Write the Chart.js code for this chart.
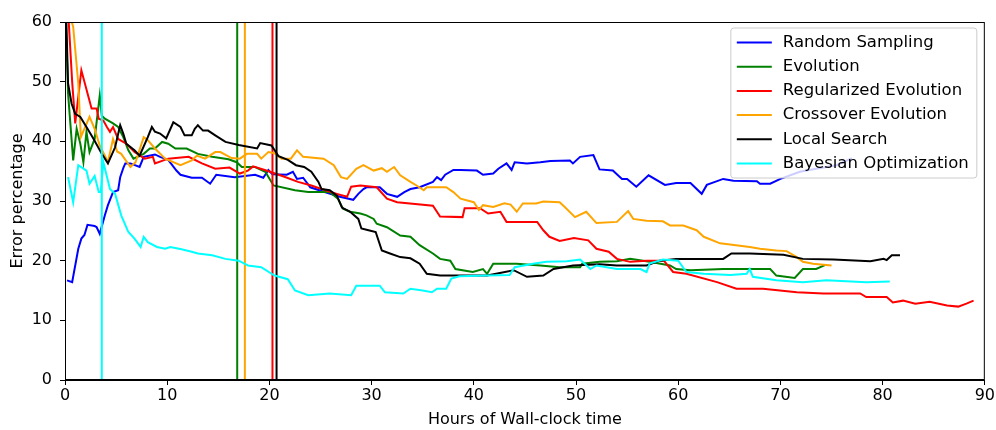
<!DOCTYPE html>
<html>
<head>
<meta charset="utf-8">
<title>Error percentage over wall-clock time</title>
<script src="https://cdn.jsdelivr.net/npm/chart.js@4.4.1/dist/chart.umd.min.js"></script>
<style>
  html, body { margin: 0; padding: 0; background: #fff; }
</style>
</head>
<body>
<canvas id="chart" width="996" height="430"></canvas>
<script>
// [hours, error %]
const randomSampling = [[0.2,16.7],[0.7,16.4],[1.3,22],[1.6,23.7],[1.9,24.3],[2.2,26],[2.9,25.8],[3.1,25.6],[3.4,24.5],[3.9,27.6],[4.2,29.3],[4.7,31.5],[5.2,31.8],[5.4,34],[5.7,35.5],[5.9,36.3],[6.4,36.3],[7.3,35.7],[7.7,37.4],[8.8,37.8],[9.3,37.4],[10.1,36.9],[10.9,35.1],[11.3,34.4],[12.4,33.9],[13.4,33.9],[14.2,32.9],[14.8,34.4],[16.6,34],[18.6,34.4],[19.4,33.9],[19.9,35.2],[20.3,34.5],[21.7,34.4],[22.3,34.9],[22.7,33.7],[23.3,33.9],[24,32.3],[25.4,31.5],[26.9,30.7],[28.2,30.2],[28.7,31.2],[29.2,32],[29.5,32.3],[30.8,32.3],[31.5,31.2],[32.5,30.7],[33.2,31.5],[33.8,32],[34.7,32.3],[36,33.2],[36.4,34],[36.8,33.5],[37.2,34.4],[38,35.2],[38.7,35.2],[40.3,35.1],[40.9,34.4],[41.9,34.6],[42.4,35.4],[43.2,36.3],[43.7,35.2],[44,36.5],[45.2,36.3],[46.5,36.5],[47.5,36.7],[49.4,36.8],[49.7,36.3],[50.4,37.4],[51.7,37.7],[52.3,35.3],[53.6,35.1],[54.5,33.7],[55,33.7],[55.9,32.4],[57.1,34.3],[58.7,32.7],[59.8,33],[61.2,33],[62.3,31.2],[62.8,32.7],[64.4,33.7],[65.4,33.4],[67.7,33.3],[68,32.9],[69,32.9],[70,33.7],[71.9,34.9],[73.5,35.4],[75.5,36],[77,37.2]];
const evolution = [[0.05,62],[0.3,48],[0.8,36.8],[1.14,42.1],[1.5,39.6],[1.8,36.5],[2.1,41.6],[2.4,38.2],[2.9,40.4],[3.4,47.7],[3.6,44.3],[3.9,43.8],[4.7,43],[5.2,42.4],[5.7,40.7],[6.2,38.5],[6.7,37.1],[7.7,37.9],[8.3,38.8],[8.8,38.8],[9.5,39.9],[10.1,39.6],[10.8,38.8],[11.9,38.8],[13,37.9],[14.4,37.4],[16,37],[16.8,36.5],[17.3,35.7],[18.6,35.7],[19.6,34.9],[20.4,32.6],[22.5,31.8],[23.8,31.5],[25.9,31.5],[26.7,30.4],[27.2,28.7],[27.9,28.2],[28.9,27.9],[29.5,27.6],[30.2,27],[30.5,26.2],[31.5,25.6],[32.8,24.2],[33.8,24],[34.7,22.6],[36,21.2],[36.7,20.3],[37.7,20],[38.2,18.6],[39.9,18.1],[40.9,18.6],[41.3,17.8],[41.9,19.5],[44.2,19.5],[46.5,19.2],[48.4,18.9],[50.4,18.9],[50.6,19.5],[52.3,19.8],[54,19.9],[55.3,20.3],[57.2,19.8],[59.2,19.2],[59.8,18.6],[61.2,18.4],[64.4,18.6],[67,18.6],[69,18.6],[69.6,17.5],[71.4,17.1],[72.2,18.6],[73.5,18.6],[74.4,19.3]];
const regularizedEvolution = [[0.3,62],[0.7,50],[1.0,43],[1.6,51.9],[2.6,45.5],[3.1,45.5],[3.3,43.8],[3.75,43.5],[4.1,42.4],[4.4,41.6],[4.7,42.4],[5.2,40.4],[6.0,39.6],[6.8,38.2],[7.8,37.1],[8.6,37.4],[8.8,36.3],[10.1,37.1],[12.1,37.4],[13.4,36.3],[14.7,35.4],[16.1,35.6],[17.1,34.6],[17.9,35.1],[18.4,35.8],[19.7,35.1],[21.4,34.1],[22.8,33.2],[24.1,32.6],[25.1,32],[26.6,31.2],[27.6,30.7],[28,32.4],[28.9,32.6],[30.5,32.3],[31.5,30.4],[32.5,29.8],[36,29.2],[36.7,27.4],[38.9,27.3],[39.1,28.8],[40.6,28.8],[41.4,27.9],[42.6,28.2],[43.2,26.5],[46.2,26.5],[46.8,25.1],[47.4,24],[48.4,23.3],[49.8,23.8],[51.2,23.4],[52,22],[53.2,21.5],[54,20.3],[55.3,19.8],[56.9,20],[58.6,20],[59.5,18.1],[60.8,17.8],[63.8,16.4],[65.7,15.3],[68.3,15.3],[71.6,14.7],[74.2,14.5],[77.8,14.5],[78.4,13.9],[80.4,13.9],[81,13],[82,13.3],[83.2,12.8],[84.6,13.1],[86.3,12.5],[87.4,12.3],[88.2,12.8],[88.9,13.3]];
const crossoverEvolution = [[0.3,62],[0.8,59.2],[1.3,49.7],[1.55,40.7],[2.4,44.1],[2.9,42.1],[3.4,39.3],[3.9,37.6],[4.2,36.5],[4.7,40.4],[5.1,38.3],[5.5,37.9],[6.4,35.7],[6.9,36.5],[7.7,40.7],[8.1,40.2],[8.8,38.8],[9.8,37.1],[11.3,36],[12.4,36.8],[12.9,37.6],[13.7,37.1],[14.7,38.2],[15.2,38.2],[16.3,37.2],[17.1,37.1],[17.8,37.9],[18.8,37.9],[19.2,37.1],[19.9,38.2],[20.5,38],[21.2,37.1],[22.1,37.1],[22.7,38.5],[23.3,37.4],[25.3,37.1],[26.3,36],[27,34],[27.6,33.7],[28.5,35.4],[29.2,36],[30.2,35.1],[31,35.5],[31.5,34.9],[32.2,35.7],[32.8,34.3],[33.8,33.2],[34.4,32.6],[35.1,31.8],[35.4,32.3],[37.3,32.3],[38,31.5],[38.7,30.4],[40,29.8],[40.5,28.5],[40.9,29.3],[41.9,29],[43,29.6],[43.6,29.4],[44.2,28.2],[44.8,29.6],[46.1,29.6],[46.8,29.9],[48.4,29.8],[48.9,29],[49.9,27.3],[51,28.2],[52,26.3],[54,26.5],[55.1,28.3],[55.6,27],[56.9,26.7],[58.5,26.6],[59.2,25.9],[60.5,25.9],[61.8,25.1],[62.5,24],[64.1,22.9],[67,22.3],[68,22],[69.6,21.7],[70.6,21.6],[71.6,20.6],[72.2,19.8],[73.2,19.5],[75,19.2]];
const localSearch = [[0.1,62],[0.3,49.7],[0.65,46.3],[1.0,44.6],[1.5,44.1],[2.1,42.4],[2.8,40.4],[3.6,37.9],[4.2,36.3],[4.9,39],[5.4,42.7],[5.7,41.3],[6.0,39.6],[6.8,38.5],[7.3,37.6],[8.1,40.7],[8.5,42.4],[8.8,41.6],[9.3,41.3],[9.9,40.5],[10.6,43.2],[11.3,42.4],[11.7,41],[12.4,41],[12.7,42.1],[13,42.7],[13.5,41.8],[14,41.8],[14.7,41],[15.7,39.9],[17,39.4],[18.8,38.8],[19.1,39.7],[20.2,39.3],[20.9,37.5],[21.8,36.9],[22.6,36],[23.4,35.7],[24.1,34.9],[24.8,33.2],[25.1,32],[25.9,31.8],[26.6,30.9],[27.1,28.9],[27.9,28.2],[28.7,27],[29,25.4],[29.7,25.1],[30.4,24.8],[31,21.7],[31.8,21.2],[32.8,20.6],[33.8,20.4],[34.7,19.5],[35.4,17.8],[36.7,17.5],[38.3,17.5],[41.3,17.5],[43.9,18.4],[45.2,17.3],[46.8,17.5],[47.8,18.6],[49.7,19.2],[52.3,19.4],[54,19.2],[56.9,19.2],[58.2,20],[59.8,20.3],[63.1,20.3],[64.4,20.3],[65.2,21.2],[67,21.2],[70.3,21],[72.2,20.3],[75.2,20.2],[78.8,19.9],[80.1,20.3],[80.4,20.1],[80.9,20.9],[81.7,20.9]];
const bayesianOptimization = [[0.3,34],[0.8,29.8],[1.3,36],[2.1,35.1],[2.4,32.9],[2.9,34.2],[3.3,31.5],[3.5,31.5],[3.75,36.5],[4.4,32],[4.9,31.2],[5.5,27.6],[6.2,24.8],[6.8,23.7],[7.4,22.3],[7.7,24],[8.1,23.1],[9,22.3],[9.8,22],[10.3,22.3],[11.4,21.9],[12.4,21.5],[13,21.2],[14.4,20.9],[15.7,20.3],[17,20],[17.9,19.2],[19.2,18.9],[20.5,17.5],[21.8,16.9],[22.5,15],[23.8,14.2],[25.9,14.5],[28,14.2],[28.5,15.8],[30.8,15.8],[31.3,14.7],[33.1,14.5],[33.8,15.3],[35,15],[35.9,14.7],[36.4,15.3],[37.3,15.3],[37.8,17],[38.6,17.4],[41.3,17.5],[43.5,17.6],[44,18.9],[45.8,19.5],[47.1,19.8],[49.1,19.9],[50.4,20.2],[51.4,18.6],[52,19.2],[54,18.6],[56.3,18.6],[56.9,18.1],[57.2,19.5],[58.5,20.2],[60,20],[60.8,18.1],[62.5,17.8],[65.1,17.6],[66.7,17.8],[67,18.6],[67.3,17.3],[69.6,16.7],[72.2,16.4],[74.5,16.7],[78.4,16.4],[80.7,16.5]];

const names = ["Random Sampling", "Evolution", "Regularized Evolution", "Crossover Evolution", "Local Search", "Bayesian Optimization"];
const colors = ["#0000ff", "#008000", "#ff0000", "#ffa500", "#000000", "#00ffff"];
const series = [randomSampling, evolution, regularizedEvolution, crossoverEvolution, localSearch, bayesianOptimization];
// hour at which each method's vertical marker is drawn (none for random sampling)
const markerHours = [null, 16.85, 20.3, 17.6, 20.7, 3.6];
const xTicks = [0, 10, 20, 30, 40, 50, 60, 70, 80, 90];
const yTicks = [0, 10, 20, 30, 40, 50, 60];

Chart.defaults.font.family = "'DejaVu Sans', sans-serif";
Chart.defaults.font.size = 16;
Chart.defaults.color = "#000";

const datasets = [];
series.forEach((points, i) => {
  datasets.push({
    label: names[i],
    data: points.map((p) => ({ x: p[0], y: p[1] })),
    borderColor: colors[i],
    borderWidth: 2,
    order: -2 * i,
  });
  if (markerHours[i] !== null) {
    datasets.push({
      label: "",
      data: [{ x: markerHours[i], y: yTicks[0] }, { x: markerHours[i], y: yTicks[yTicks.length - 1] }],
      borderColor: colors[i],
      borderWidth: 2,
      order: -2 * i - 1,
    });
  }
});

// box around the plot, like matplotlib spines
const frame = {
  id: "frame",
  afterDatasetsDraw(chart) {
    const { ctx, chartArea } = chart;
    ctx.save();
    ctx.strokeStyle = "#000";
    ctx.lineWidth = 1;
    ctx.strokeRect(chartArea.left + 0.5, chartArea.top + 0.5, chartArea.width - 1, chartArea.height - 1);
    ctx.restore();
  },
};

// legend drawn inside the plot, upper right
const legendBox = {
  id: "legendBox",
  afterDraw(chart) {
    const { ctx, chartArea } = chart;
    const w = 246;
    const h = 150;
    const left = chartArea.right - 8 - w;
    const top = chartArea.top + 6;
    ctx.save();
    ctx.beginPath();
    ctx.roundRect(left, top, w, h, 3);
    ctx.fillStyle = "rgba(255,255,255,0.8)";
    ctx.fill();
    ctx.strokeStyle = "#cccccc";
    ctx.lineWidth = 1;
    ctx.stroke();
    ctx.font = "16.5px 'DejaVu Sans'";
    ctx.textBaseline = "middle";
    names.forEach((name, i) => {
      const y = top + 14.5 + i * 24.2;
      ctx.strokeStyle = colors[i];
      ctx.lineWidth = 2;
      ctx.beginPath();
      ctx.moveTo(left + 6, y);
      ctx.lineTo(left + 41, y);
      ctx.stroke();
      ctx.fillStyle = "#000";
      ctx.fillText(name, left + 52, y);
    });
    ctx.restore();
  },
};

const myChart = document.getElementById("chart");
new Chart(myChart, {
  type: "scatter",
  data: { datasets },
  options: {
    responsive: false,
    animation: false,
    showLine: true,
    elements: { point: { radius: 0, hoverRadius: 0 }, line: { tension: 0 } },
    layout: { padding: { left: 0, right: 11, top: 22, bottom: 0 } },
    plugins: { legend: { display: false }, tooltip: { enabled: false } },
    scales: {
      x: {
        type: "linear",
        min: xTicks[0],
        max: xTicks[xTicks.length - 1],
        afterBuildTicks: (scale) => { scale.ticks = xTicks.map((v) => ({ value: v })); },
        afterFit: (scale) => { scale.height = 50; },
        ticks: { padding: 1 },
        grid: { drawOnChartArea: false, drawTicks: true, tickLength: 5, color: "#000" },
        border: { display: true, color: "#000" },
        title: { display: true, text: "Hours of Wall-clock time", padding: { top: 0, bottom: 1 } },
      },
      y: {
        type: "linear",
        min: yTicks[0],
        max: yTicks[yTicks.length - 1],
        afterBuildTicks: (scale) => { scale.ticks = yTicks.map((v) => ({ value: v })); },
        afterFit: (scale) => { scale.width = 65; },
        ticks: { padding: 8 },
        grid: { drawOnChartArea: false, drawTicks: true, tickLength: 5, color: "#000" },
        border: { display: true, color: "#000" },
        title: { display: true, text: "Error percentage", padding: { top: 8, bottom: 0 } },
      },
    },
  },
  plugins: [frame, legendBox],
});
</script>
</body>
</html>
